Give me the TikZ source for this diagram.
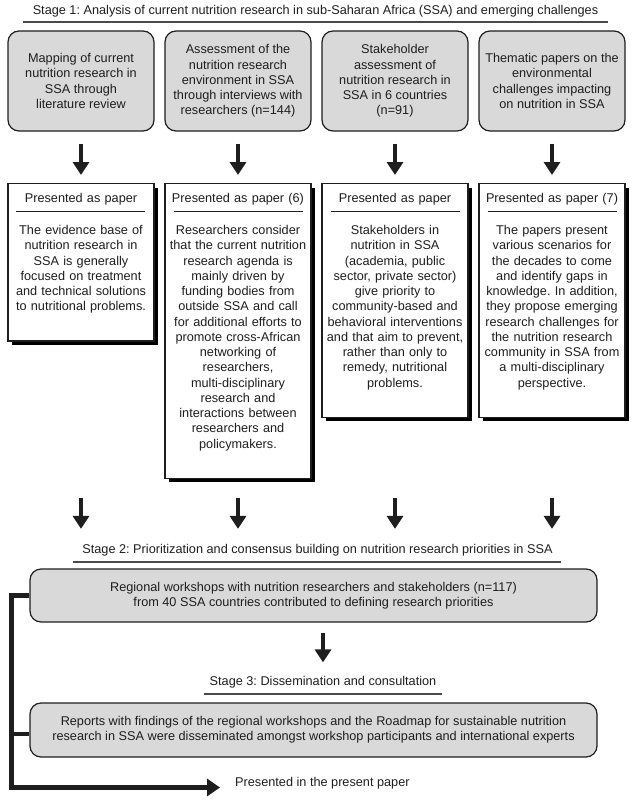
\documentclass[tikz,border=0pt]{standalone}
\usepackage{fontspec}
\setmainfont{Liberation Sans}
\usetikzlibrary{arrows.meta}
\usetikzlibrary{shadows}
\definecolor{ink}{HTML}{1E1E1E}
\definecolor{boxgray}{HTML}{D9D9D9}
\definecolor{rulegray}{HTML}{4A4A4A}
\def\paperhead#1{#1\\[-6pt]\rule{129pt}{1.1pt}\\[7.25pt]}
\def\paperend{\\[5pt]\null}
\frenchspacing

\begin{document}
\begin{tikzpicture}[x=1pt,y=-1pt,font=\fontsize{12.7}{15.25}\selectfont,
    greybox/.style={draw=ink,line width=1.2pt,fill=boxgray,rounded corners=11pt,align=center,text=ink},
    paperbox/.style={draw=ink,line width=1.2pt,fill=white,anchor=north,text width=138pt,inner xsep=4pt,inner ysep=10pt,align=center,text=ink,
        drop shadow={shadow xshift=4pt,shadow yshift=-4pt,fill=black,opacity=1}},
    stagetitle/.style={inner sep=0pt,text=ink},
    stagerule/.style={line width=1.3pt,rulegray},
    fatarrow/.style={-{Triangle[width=16pt,length=13pt]},line width=4pt,ink}]
    \useasboundingbox (0,0) rectangle (633,800);
    % Stage 1
    \node[stagetitle] (stone) at (315.5,11) {Stage 1: Analysis of current nutrition research in sub-Saharan Africa (SSA) and emerging challenges};
    \draw[stagerule] (23,22) to (608,22);
    \node[greybox,minimum width=146pt,minimum height=100pt] (map) at (81,81)
        {Mapping of current\\nutrition research in\\SSA through\\literature review};
    \node[greybox,minimum width=146pt,minimum height=100pt] (interv) at (238,81)
        {Assessment of the\\nutrition research\\environment in SSA\\through interviews with\\researchers (n=144)};
    \node[greybox,minimum width=146pt,minimum height=100pt] (stake) at (395,81)
        {Stakeholder\\assessment of\\nutrition research in\\SSA in 6 countries\\(n=91)};
    \node[greybox,minimum width=146pt,minimum height=100pt] (theme) at (552,81)
        {Thematic papers on the\\environmental\\challenges impacting\\on nutrition in SSA};
    % Presented as paper
    \node[paperbox] (pap1) at (81,183) {\paperhead{Presented as paper}The evidence base of\\nutrition research in\\SSA is generally\\focused on treatment\\and technical solutions\\to nutritional problems.\paperend};
    \node[paperbox] (pap2) at (238,183) {\paperhead{Presented as paper (6)}Researchers consider\\that the current nutrition\\research agenda is\\mainly driven by\\funding bodies from\\outside SSA and call\\for additional efforts to\\promote cross-African\\networking of\\researchers,\\multi-disciplinary\\research and\\interactions between\\researchers and\\policymakers.\paperend};
    \node[paperbox] (pap3) at (395,183) {\paperhead{Presented as paper}Stakeholders in\\nutrition in SSA\\(academia, public\\sector, private sector)\\give priority to\\community-based and\\behavioral interventions\\and that aim to prevent,\\rather than only to\\remedy, nutritional\\problems.\paperend};
    \node[paperbox] (pap4) at (552,183) {\paperhead{Presented as paper (7)}The papers present\\various scenarios for\\the decades to come\\and identify gaps in\\knowledge. In addition,\\they propose emerging\\research challenges for\\the nutrition research\\community in SSA from\\a multi-disciplinary\\perspective.\paperend};
    \foreach \a/\b in {map/pap1,interv/pap2,stake/pap3,theme/pap4}
        \draw[fatarrow,shorten <=12pt,shorten >=8pt] (\a) to (\b);
    % Stage 2
    \node[stagetitle] (sttwo) at (317.5,550) {Stage 2: Prioritization and consensus building on nutrition research priorities in SSA};
    \foreach \i/\x in {1/81,2/238,3/395,4/552}
        \coordinate (up\i) at (\x,498);
    \foreach \i in {1,...,4}
        \draw[fatarrow,shorten >=15pt] (up\i) to (up\i |- sttwo.north);
    \draw[stagerule] (73,562) to (561,562);
    \node[greybox,minimum width=567pt,minimum height=53pt] (reg) at (313.5,595.5)
        {Regional workshops with nutrition researchers and stakeholders (n=117)\\from 40 SSA countries contributed to defining research priorities};
    % Stage 3
    \node[stagetitle] (stthree) at (323,682.5) {Stage 3: Dissemination and consultation};
    \draw[fatarrow,shorten <=10pt,shorten >=14pt] (reg.south -| stthree.north) to (stthree.north);
    \draw[stagerule] (204,694) to (442,694);
    \node[greybox,minimum width=567pt,minimum height=54pt] (diss) at (313.5,730)
        {Reports with findings of the regional workshops and the Roadmap for sustainable nutrition\\research in SSA were disseminated amongst workshop participants and international experts};
    % Back to the present paper
    \coordinate (corner) at (11.5,787.5);
    \coordinate (tip) at (220,787.5);
    \node[stagetitle,anchor=west] (present) at (235,783) {Presented in the present paper};
    \draw[line width=4.5pt,ink,-{Triangle[width=17pt,length=13pt]}] (reg.west) -| (corner) to (tip);
    \draw[line width=4.5pt,ink] ([yshift=-4pt]diss.west) to ([yshift=-4pt]diss.west -| corner);
\end{tikzpicture}
\end{document}
